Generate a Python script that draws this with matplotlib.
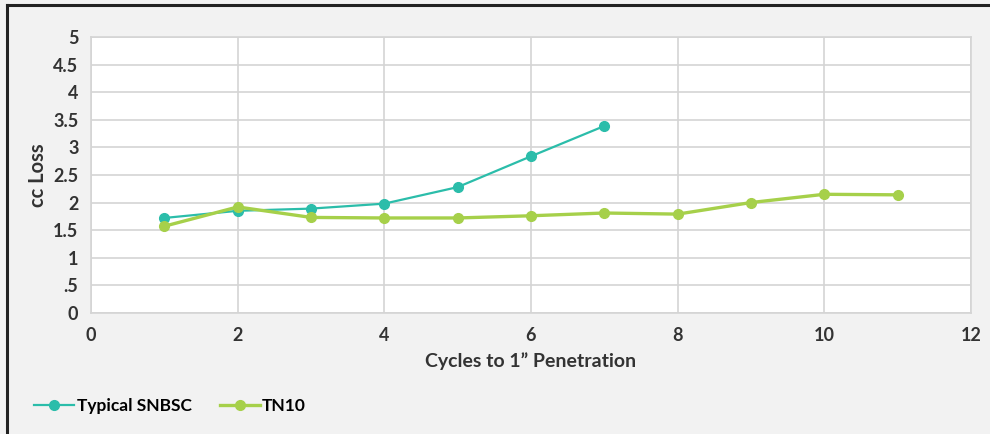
import matplotlib.pyplot as plt
from matplotlib.lines import Line2D

plt.rcParams['font.family'] = ['Lato', 'DejaVu Sans']

cycles_snbsc = [1, 2, 3, 4, 5, 6, 7]
loss_snbsc = [1.72, 1.85, 1.89, 1.98, 2.28, 2.84, 3.39]

cycles_tn10 = [1, 2, 3, 4, 5, 6, 7, 8, 9, 10, 11]
loss_tn10 = [1.57, 1.92, 1.73, 1.72, 1.72, 1.76, 1.81, 1.79, 2.00, 2.15, 2.14]

y_ticks = [0, 0.5, 1, 1.5, 2, 2.5, 3, 3.5, 4, 4.5, 5]
y_labels = ['0', '.5', '1', '1.5', '2', '2.5', '3', '3.5', '4', '4.5', '5']
x_ticks = [0, 2, 4, 6, 8, 10, 12]

teal = '#2bbdaa'
green = '#a6d04a'
text_col = '#333333'
grid_col = '#d4d4d4'

fig = plt.figure(figsize=(9.9, 4.34), dpi=100, facecolor='#f2f2f2')
ax = fig.add_axes([0.0919, 0.2795, 0.8889, 0.6345])
ax.set_facecolor('white')

ax.plot(cycles_snbsc, loss_snbsc, color=teal, lw=1.6, marker='o', ms=7,
        label='Typical SNBSC', zorder=3)
ax.plot(cycles_tn10, loss_tn10, color=green, lw=2.4, marker='o', ms=7,
        label='TN10', zorder=3)

ax.set_xlim(0, 12)
ax.set_ylim(0, 5)
ax.set_xticks(x_ticks)
ax.set_yticks(y_ticks)
ax.set_yticklabels(y_labels)
ax.grid(True, color=grid_col, lw=1.2)
ax.set_axisbelow(True)
for s in ax.spines.values():
    s.set_color(grid_col)
    s.set_linewidth(1.2)
ax.tick_params(length=0, labelsize=13, labelcolor=text_col)
ax.tick_params(axis='x', pad=10)
ax.tick_params(axis='y', pad=9)
for lbl in ax.get_xticklabels() + ax.get_yticklabels():
    lbl.set_fontweight('bold')

ax.set_xlabel('Cycles to 1\u201d Penetration', fontsize=14, color=text_col,
              fontweight='bold', labelpad=6)
ax.set_ylabel('cc Loss', fontsize=14.5, color=text_col, fontweight='bold',
              labelpad=4)

fig.legend(loc='lower left', bbox_to_anchor=(0.019, 0.01), ncol=2,
           frameon=False, handlelength=2.3, handletextpad=0.15,
           columnspacing=1.6, prop={'weight': 'bold', 'size': 12.5})

# frame lines on top and left of the picture
fig.add_artist(Line2D([0.007, 1.0], [0.989, 0.989], color='#222222', lw=2.2,
                      transform=fig.transFigure))
fig.add_artist(Line2D([0.0075, 0.0075], [0.0, 0.989], color='#222222', lw=2.2,
                      transform=fig.transFigure))

fig.savefig('out.png', dpi=100, facecolor=fig.get_facecolor())
